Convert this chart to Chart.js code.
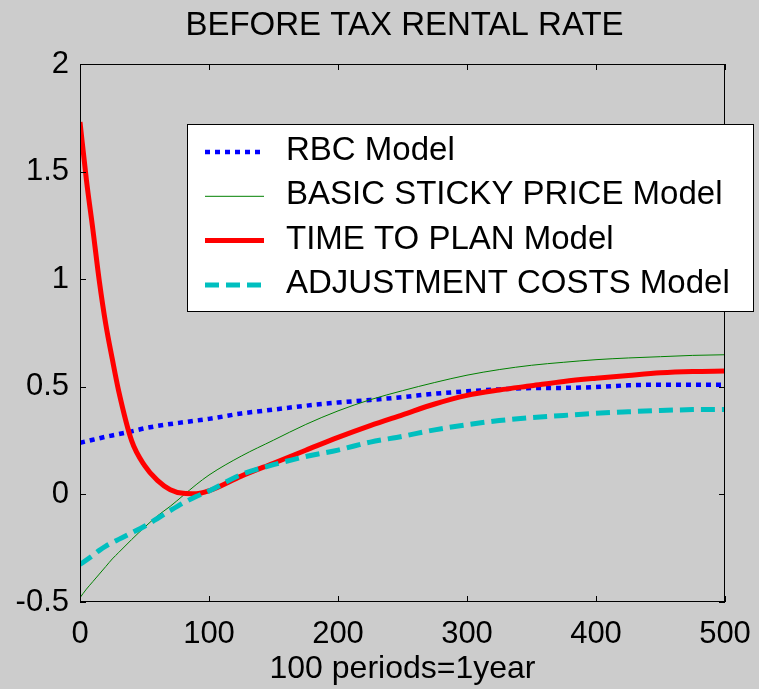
<!DOCTYPE html>
<html>
<head>
<meta charset="utf-8">
<title>Before tax rental rate</title>
<script src="https://cdn.jsdelivr.net/npm/chart.js@4.4.1/dist/chart.umd.min.js"></script>
<style>
  html, body { margin: 0; padding: 0; background: #cccccc; }
  canvas { display: block; }
</style>
</head>
<body>
<canvas id="rentalChart" width="759" height="689"></canvas>
<script>
// periods (100 periods = 1 year)
const periods = [0, 5, 10, 15, 20, 25, 30, 40, 50, 60, 70, 80, 90, 100, 125, 150, 175, 200, 225, 250, 275, 300, 325, 350, 375, 400, 425, 450, 475, 500];

const rbcModel = [0.24, 0.247, 0.254, 0.261, 0.268, 0.274, 0.28, 0.293, 0.307, 0.318, 0.327, 0.335, 0.343, 0.351, 0.376, 0.394, 0.412, 0.427, 0.439, 0.452, 0.468, 0.479, 0.488, 0.494, 0.495, 0.499, 0.507, 0.51, 0.51, 0.51];
const stickyPriceModel = [-0.48, -0.44, -0.405, -0.37, -0.335, -0.3, -0.27, -0.21, -0.153, -0.1, -0.055, -0.005, 0.045, 0.09, 0.178, 0.252, 0.325, 0.388, 0.44, 0.482, 0.52, 0.554, 0.58, 0.6, 0.614, 0.626, 0.634, 0.64, 0.646, 0.649];
const timeToPlanModel = [1.73, 1.46, 1.23, 0.99, 0.79, 0.63, 0.48, 0.25, 0.135, 0.065, 0.022, 0.005, 0.003, 0.017, 0.085, 0.145, 0.205, 0.265, 0.32, 0.37, 0.42, 0.46, 0.485, 0.505, 0.525, 0.54, 0.553, 0.565, 0.571, 0.573];
const adjustmentCostsModel = [-0.326, -0.305, -0.283, -0.26, -0.24, -0.224, -0.209, -0.179, -0.148, -0.112, -0.075, -0.04, -0.01, 0.016, 0.092, 0.138, 0.176, 0.206, 0.243, 0.27, 0.3, 0.324, 0.343, 0.357, 0.367, 0.377, 0.384, 0.39, 0.394, 0.395];

const seriesLabels = ['RBC Model', 'BASIC STICKY PRICE Model', 'TIME TO PLAN Model', 'ADJUSTMENT COSTS Model'];
const xTicks = [0, 100, 200, 300, 400, 500];
const yTicks = [-0.5, 0, 0.5, 1, 1.5, 2];

const FONT = '"Liberation Sans", Arial, sans-serif';

const toPoints = (values) => values.map((v, i) => ({ x: periods[i], y: v }));

// box, inward ticks, title, x label and legend (matlab look)
const frameAndLegend = {
    id: 'frameAndLegend',
    afterDraw(chart) {
        const { ctx, chartArea: a, scales } = chart;
        const tick = 6;
        ctx.save();
        ctx.strokeStyle = '#000';
        ctx.lineWidth = 1;
        ctx.strokeRect(a.left + 0.5, a.top + 0.5, a.right - a.left - 1, a.bottom - a.top - 1);
        ctx.beginPath();
        xTicks.forEach((t) => {
            const px = Math.round(scales.x.getPixelForValue(t)) + 0.5;
            ctx.moveTo(px, a.bottom); ctx.lineTo(px, a.bottom - tick);
            ctx.moveTo(px, a.top); ctx.lineTo(px, a.top + tick);
        });
        yTicks.forEach((t) => {
            const py = Math.round(scales.y.getPixelForValue(t)) + 0.5;
            ctx.moveTo(a.left, py); ctx.lineTo(a.left + tick, py);
            ctx.moveTo(a.right, py); ctx.lineTo(a.right - tick, py);
        });
        ctx.stroke();

        ctx.fillStyle = '#000';
        ctx.textAlign = 'center';
        ctx.textBaseline = 'middle';
        ctx.font = '33px ' + FONT;
        ctx.fillText('BEFORE TAX RENTAL RATE', (a.left + a.right) / 2 + 2, 26);
        ctx.font = '32px ' + FONT;
        ctx.fillText('100 periods=1year', (a.left + a.right) / 2, 669);

        // legend
        const box = { x: 187.5, y: 124.5, w: 566, h: 187 };
        ctx.fillStyle = '#fff';
        ctx.fillRect(box.x, box.y, box.w, box.h);
        ctx.strokeRect(box.x, box.y, box.w, box.h);
        ctx.font = '33px ' + FONT;
        chart.data.datasets.forEach((ds, i) => {
            const y = 152 + i * 44.3;
            ctx.beginPath();
            ctx.strokeStyle = ds.borderColor;
            ctx.lineWidth = ds.borderWidth;
            ctx.lineCap = 'butt';
            ctx.setLineDash(ds.borderDash || []);
            ctx.moveTo(205, y);
            ctx.lineTo(264, y);
            ctx.stroke();
            ctx.setLineDash([]);
            ctx.fillStyle = '#000';
            ctx.textAlign = 'left';
            ctx.fillText(ds.label, 286, y - 1);
        });
        ctx.restore();
    }
};

new Chart(document.getElementById('rentalChart'), {
    type: 'line',
    data: {
        datasets: [
            {
                label: seriesLabels[0],
                data: toPoints(rbcModel),
                borderColor: '#0000ff',
                borderWidth: 4.5,
                borderDash: [5, 5],
                order: 4,
            },
            {
                label: seriesLabels[1],
                data: toPoints(stickyPriceModel),
                borderColor: '#008000',
                borderWidth: 1,
                order: 3,
            },
            {
                label: seriesLabels[2],
                data: toPoints(timeToPlanModel),
                borderColor: '#ff0000',
                borderWidth: 5,
                order: 2,
            },
            {
                label: seriesLabels[3],
                data: toPoints(adjustmentCostsModel),
                borderColor: '#00bfbf',
                borderWidth: 5,
                borderDash: [14, 7],
                order: 1,
            },
        ],
    },
    options: {
        responsive: false,
        animation: false,
        layout: { padding: { top: 64, right: 34, left: 0, bottom: 0 } },
        elements: {
            point: { radius: 0 },
            line: { cubicInterpolationMode: 'monotone', borderCapStyle: 'butt', fill: false },
        },
        plugins: {
            legend: { display: false },
            title: { display: false },
            tooltip: { enabled: false },
        },
        scales: {
            x: {
                type: 'linear',
                min: 0,
                max: 500,
                grid: { display: false, drawTicks: false },
                border: { display: false },
                ticks: { stepSize: 100, color: '#000', padding: 14, maxRotation: 0, font: { size: 31, family: FONT } },
                afterFit: (s) => { s.height = 87; s.paddingLeft = 0; s.paddingRight = 0; },
            },
            y: {
                min: -0.5,
                max: 2,
                grid: { display: false, drawTicks: false },
                border: { display: false },
                ticks: {
                    stepSize: 0.5,
                    color: '#000',
                    padding: 11,
                    font: { size: 31, family: FONT },
                    callback: (v) => String(v),
                },
                afterFit: (s) => { s.width = 80; s.paddingTop = 0; s.paddingBottom = 0; },
            },
        },
    },
    plugins: [frameAndLegend],
});
</script>
</body>
</html>
